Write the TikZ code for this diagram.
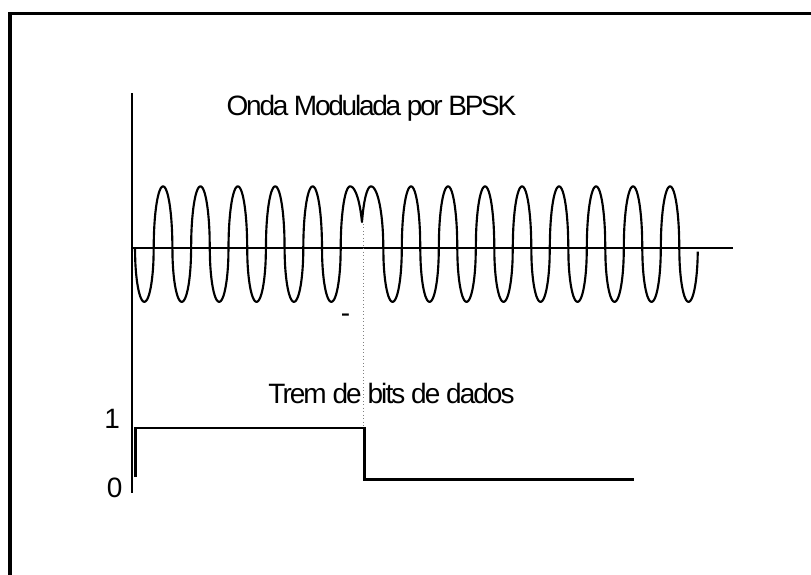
\documentclass[tikz,border=0pt]{standalone}
\usepackage{fontspec}
\setmainfont{Liberation Sans}
\newfontfamily\titlefont[LetterSpace=-8]{Liberation Sans}
\newfontfamily\tightfont[LetterSpace=-7]{Liberation Sans}
\usepackage{graphicx}
\begin{document}
\begin{tikzpicture}[x=0.75pt,y=-0.75pt,
  frame/.style={line width=2.5pt},
  axis/.style={line width=1.6pt},
  wave/.style={line width=1.6pt, line join=round},
  bits/.style={line width=1.7pt, line join=miter},
  guide/.style={line width=0.6pt, dotted, gray},
  lbl/.style={inner sep=0pt, font=\fontsize{21}{25}\selectfont},
  ttlbl/.style={inner sep=0pt, font=\titlefont\fontsize{21}{25}\selectfont},
  tlbl/.style={inner sep=0pt, font=\tightfont\fontsize{21}{25}\selectfont}]
\useasboundingbox (0,0) rectangle (811,575);
% frame (only top and left edges are visible)
\coordinate (fbl) at (10,580);
\coordinate (ftl) at (10,13.3);
\coordinate (ftr) at (815,13.3);
\draw[frame] (fbl) -- (ftl) -- (ftr);
% axes
\coordinate (ytop) at (132,93);
\coordinate (ybot) at (132,493);
\coordinate (xl) at (132,248.3);
\coordinate (xr) at (733,248.3);
\draw[axis] (ytop) -- (ybot);
\draw[axis] (xl) -- (xr);
% BPSK wave (half-elliptic lobes)
\draw[wave]
  plot[domain=135:340.7, samples=900] (\x, {248.3 + (57.7*cos(180*floor((\x-135)/18.7)) - 4.2)*2*sqrt(max(0,frac((\x-135)/18.7)*(1-frac((\x-135)/18.7))))})
  -- plot[domain=0:90, samples=40, variable=\p] ({350.1-9.4*cos(\p)}, {248.3-61.9*sin(\p)})
  -- plot[domain=90:154.8, samples=30, variable=\p] ({350.1-13.1*cos(\p)}, {248.3-61.9*sin(\p)})
  -- plot[domain=25.2:90, samples=30, variable=\p] ({371-9.94*cos(\p)}, {248.3-61.9*sin(\p)})
  -- plot[domain=90:180, samples=40, variable=\p] ({371-12.3*cos(\p)}, {248.3-61.9*sin(\p)})
  -- plot[domain=383.3:697.8, samples=1300] (\x, {248.3 + (57.7*cos(180*floor((\x-383.3)/18.5)) - 4.2)*2*sqrt(max(0,frac((\x-383.3)/18.5)*(1-frac((\x-383.3)/18.5))))});
% dotted guide
\coordinate (gtop) at (363.3,224);
\coordinate (gbot) at (363.3,428);
\draw[guide] (gtop) -- (gbot);
% bit train
\coordinate (b0) at (135.5,477);
\coordinate (b1) at (135.5,428.3);
\coordinate (b2) at (364.5,428.3);
\coordinate (b3) at (364.5,479.5);
\coordinate (b4) at (633.5,479.5);
\draw[bits] (b0) -- (b1) -- (b2) -- (b3) -- (b4);
% labels
\node[ttlbl, anchor=base] (title) at (371.5,115.5) {Onda Modulada por BPSK};
\node[tlbl, anchor=base] (bitslbl) at (391.5,403.5) {Trem de bits de dados};
\node[lbl, anchor=base west] (one) at (104,428) {1};
\node[lbl, anchor=base west] (zero) at (106.5,497) {0};
\node[lbl, anchor=base] (minus) at (345.5,322) {-};
\end{tikzpicture}
\end{document}
